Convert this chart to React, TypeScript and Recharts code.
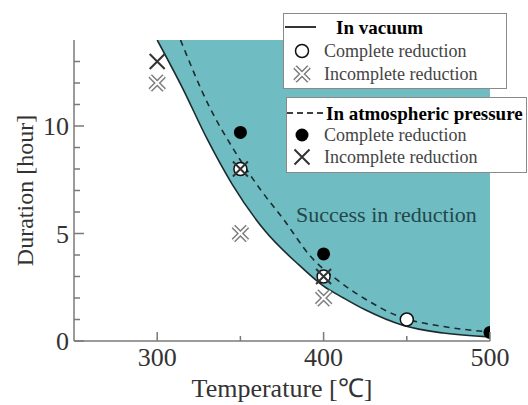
import { ComposedChart, Area, Line, Scatter, XAxis, YAxis, Label } from 'recharts'

const TOP = 14
const xTicks = [300, 350, 400, 450, 500]
const xLabeled = [300, 400, 500]
const yTicks = [0, 1, 2, 3, 4, 5, 6, 7, 8, 9, 10, 11, 12, 13]
const yLabeled = [0, 5, 10]

// boundary curves (temperature, hours)
const vacuumBoundary = [
  { t: 300, v: 14 },
  { t: 315, v: 11.8 },
  { t: 330, v: 9.4 },
  { t: 345, v: 7.3 },
  { t: 365, v: 5.1 },
  { t: 385, v: 3.55 },
  { t: 400, v: 2.55 },
  { t: 412, v: 2.0 },
  { t: 425, v: 1.45 },
  { t: 448, v: 0.72 },
  { t: 472, v: 0.37 },
  { t: 500, v: 0.19 },
]
const atmBoundary = [
  { t: 314, v: 14 },
  { t: 331, v: 10.95 },
  { t: 346, v: 8.9 },
  { t: 362, v: 7.05 },
  { t: 376, v: 5.65 },
  { t: 392, v: 3.95 },
  { t: 408, v: 2.85 },
  { t: 424, v: 2.0 },
  { t: 446, v: 1.12 },
  { t: 470, v: 0.7 },
  { t: 500, v: 0.42 },
]

const vacuumComplete = [
  { t: 350, v: 8 },
  { t: 400, v: 3 },
  { t: 450, v: 1 },
]
const vacuumIncomplete = [
  { t: 300, v: 12 },
  { t: 350, v: 5 },
  { t: 400, v: 2 },
]
const atmComplete = [
  { t: 350, v: 9.7 },
  { t: 400, v: 4.05 },
  { t: 500, v: 0.4 },
]
const atmIncomplete = [
  { t: 300, v: 13 },
  { t: 350, v: 8 },
  { t: 400, v: 3 },
]

const TEAL = '#6fbdc3'
const AXIS = '#7a7a7a'
const INK = '#1c2b2d'
const FONT = '"Liberation Serif", "Times New Roman", serif'

const OpenCircle = ({ cx, cy }: any) => (
  <circle cx={cx} cy={cy} r={6.5} fill="#fff" stroke="#111" strokeWidth={1.5} />
)
const FilledCircle = ({ cx, cy }: any) => <circle cx={cx} cy={cy} r={6.5} fill="#000" />
const crossPath = (cx: number, cy: number, d: number) =>
  `M${cx - d},${cy - d}L${cx + d},${cy + d}M${cx + d},${cy - d}L${cx - d},${cy + d}`
const GrayCross = ({ cx, cy }: any) => (
  <g>
    <path d={crossPath(cx, cy, 7)} stroke="#7d7d7d" strokeWidth={5} />
    <path d={crossPath(cx, cy, 7)} stroke="#fff" strokeWidth={2} />
  </g>
)
const ThinCross = ({ cx, cy }: any) => (
  <path d={crossPath(cx, cy, 7.5)} stroke="#333" strokeWidth={2} fill="none" />
)

const XTick = ({ x, y, payload }: any) => {
  const major = xLabeled.includes(payload.value)
  return (
    <g>
      <line x1={x} x2={x} y1={y} y2={y - (major ? 9 : 5)} stroke={AXIS} strokeWidth={1.5} />
      {major && (
        <text x={x} y={y + 25} textAnchor="middle" fontSize={26} fill="#333" fontFamily={FONT}>
          {payload.value}
        </text>
      )}
    </g>
  )
}

const YTick = ({ x, y, payload }: any) => {
  const major = yLabeled.includes(payload.value)
  return (
    <g>
      <line x1={x} x2={x + (major ? 10 : 6)} y1={y} y2={y} stroke={AXIS} strokeWidth={1.5} />
      {major && (
        <text x={x - 5} y={y + 9} textAnchor="end" fontSize={26} fill="#333" fontFamily={FONT}>
          {payload.value}
        </text>
      )}
    </g>
  )
}

const legendText = { fontFamily: FONT, fontSize: 18, fill: '#444' }
const legendTitle = { fontFamily: FONT, fontSize: 19, fontWeight: 700, fill: '#000' }

export default function App() {
  return (
    <div style={{ position: 'absolute', left: 0, top: 0, width: 528, height: 405, background: '#fff' }}>
      <ComposedChart width={528} height={405} margin={{ top: 40, right: 38, bottom: 0, left: 0 }}>
        <XAxis
          dataKey="t"
          type="number"
          domain={[250, 500]}
          ticks={xTicks}
          interval={0}
          tick={<XTick />}
          tickSize={0}
          tickMargin={0}
          tickLine={false}
          height={64}
          allowDataOverflow
          axisLine={{ stroke: AXIS, strokeWidth: 1.5 }}
        >
          <Label
            value="Temperature [℃]"
            position="insideBottom"
            offset={8}
            style={{ fontFamily: FONT, fontSize: 26, fill: '#333' }}
          />
        </XAxis>
        <XAxis
          xAxisId="top"
          dataKey="t"
          type="number"
          orientation="top"
          domain={[250, 500]}
          height={0}
          tick={false}
          tickLine={false}
          axisLine={{ stroke: AXIS, strokeWidth: 1.5 }}
        />
        <YAxis
          dataKey="v"
          type="number"
          domain={[0, TOP]}
          ticks={yTicks}
          interval={0}
          tick={<YTick />}
          tickSize={0}
          tickMargin={0}
          tickLine={false}
          width={74}
          allowDataOverflow
          axisLine={{ stroke: AXIS, strokeWidth: 1.5 }}
        >
          <Label
            value="Duration [hour]"
            angle={-90}
            position="insideLeft"
            offset={24}
            style={{ fontFamily: FONT, fontSize: 24, fill: '#333', textAnchor: 'middle' }}
          />
        </YAxis>
        <Area
          data={vacuumBoundary}
          dataKey={(d: any) => [d.v, TOP]}
          type="monotone"
          fill={TEAL}
          fillOpacity={1}
          stroke="none"
          isAnimationActive={false}
        />
        <Line
          data={vacuumBoundary}
          dataKey="v"
          type="monotone"
          stroke={INK}
          strokeWidth={1.6}
          dot={false}
          isAnimationActive={false}
        />
        <Line
          data={atmBoundary}
          dataKey="v"
          type="monotone"
          stroke={INK}
          strokeWidth={1.6}
          strokeDasharray="6 5"
          dot={false}
          isAnimationActive={false}
        />
        <Scatter data={vacuumIncomplete} dataKey="v" shape={<GrayCross />} isAnimationActive={false} />
        <Scatter data={vacuumComplete} dataKey="v" shape={<OpenCircle />} isAnimationActive={false} />
        <Scatter data={atmComplete} dataKey="v" shape={<FilledCircle />} isAnimationActive={false} />
        <Scatter data={atmIncomplete} dataKey="v" shape={<ThinCross />} isAnimationActive={false} />
      </ComposedChart>

      <div
        style={{
          position: 'absolute',
          left: 296,
          top: 200,
          fontFamily: FONT,
          fontSize: 22,
          color: '#24474c',
          whiteSpace: 'nowrap',
          lineHeight: '30px',
        }}
      >
        Success in reduction
      </div>

      <svg style={{ position: 'absolute', left: 283, top: 13 }} width={224} height={76}>
        <rect x={0.5} y={0.5} width={223} height={75} fill="#fff" stroke="#8a8a8a" />
        <line x1={2} x2={33} y1={14} y2={14} stroke="#000" strokeWidth={1.6} />
        <text x={53} y={14} dominantBaseline="central" style={legendTitle}>
          In vacuum
        </text>
        <OpenCircle cx={19} cy={38} />
        <text x={41} y={38} dominantBaseline="central" style={legendText}>
          Complete reduction
        </text>
        <GrayCross cx={19} cy={61} />
        <text x={41} y={61} dominantBaseline="central" style={legendText}>
          Incomplete reduction
        </text>
      </svg>

      <svg style={{ position: 'absolute', left: 286, top: 97 }} width={242} height={76}>
        <rect x={0.5} y={0.5} width={240} height={75} fill="#fff" stroke="#8a8a8a" />
        <line x1={1} x2={38} y1={16} y2={16} stroke="#000" strokeWidth={1.6} strokeDasharray="6 4" />
        <text x={40} y={16} dominantBaseline="central" style={legendTitle}>
          In atmospheric pressure
        </text>
        <FilledCircle cx={16} cy={38} />
        <text x={38} y={38} dominantBaseline="central" style={legendText}>
          Complete reduction
        </text>
        <ThinCross cx={16} cy={60} />
        <text x={38} y={60} dominantBaseline="central" style={legendText}>
          Incomplete reduction
        </text>
      </svg>
    </div>
  )
}
